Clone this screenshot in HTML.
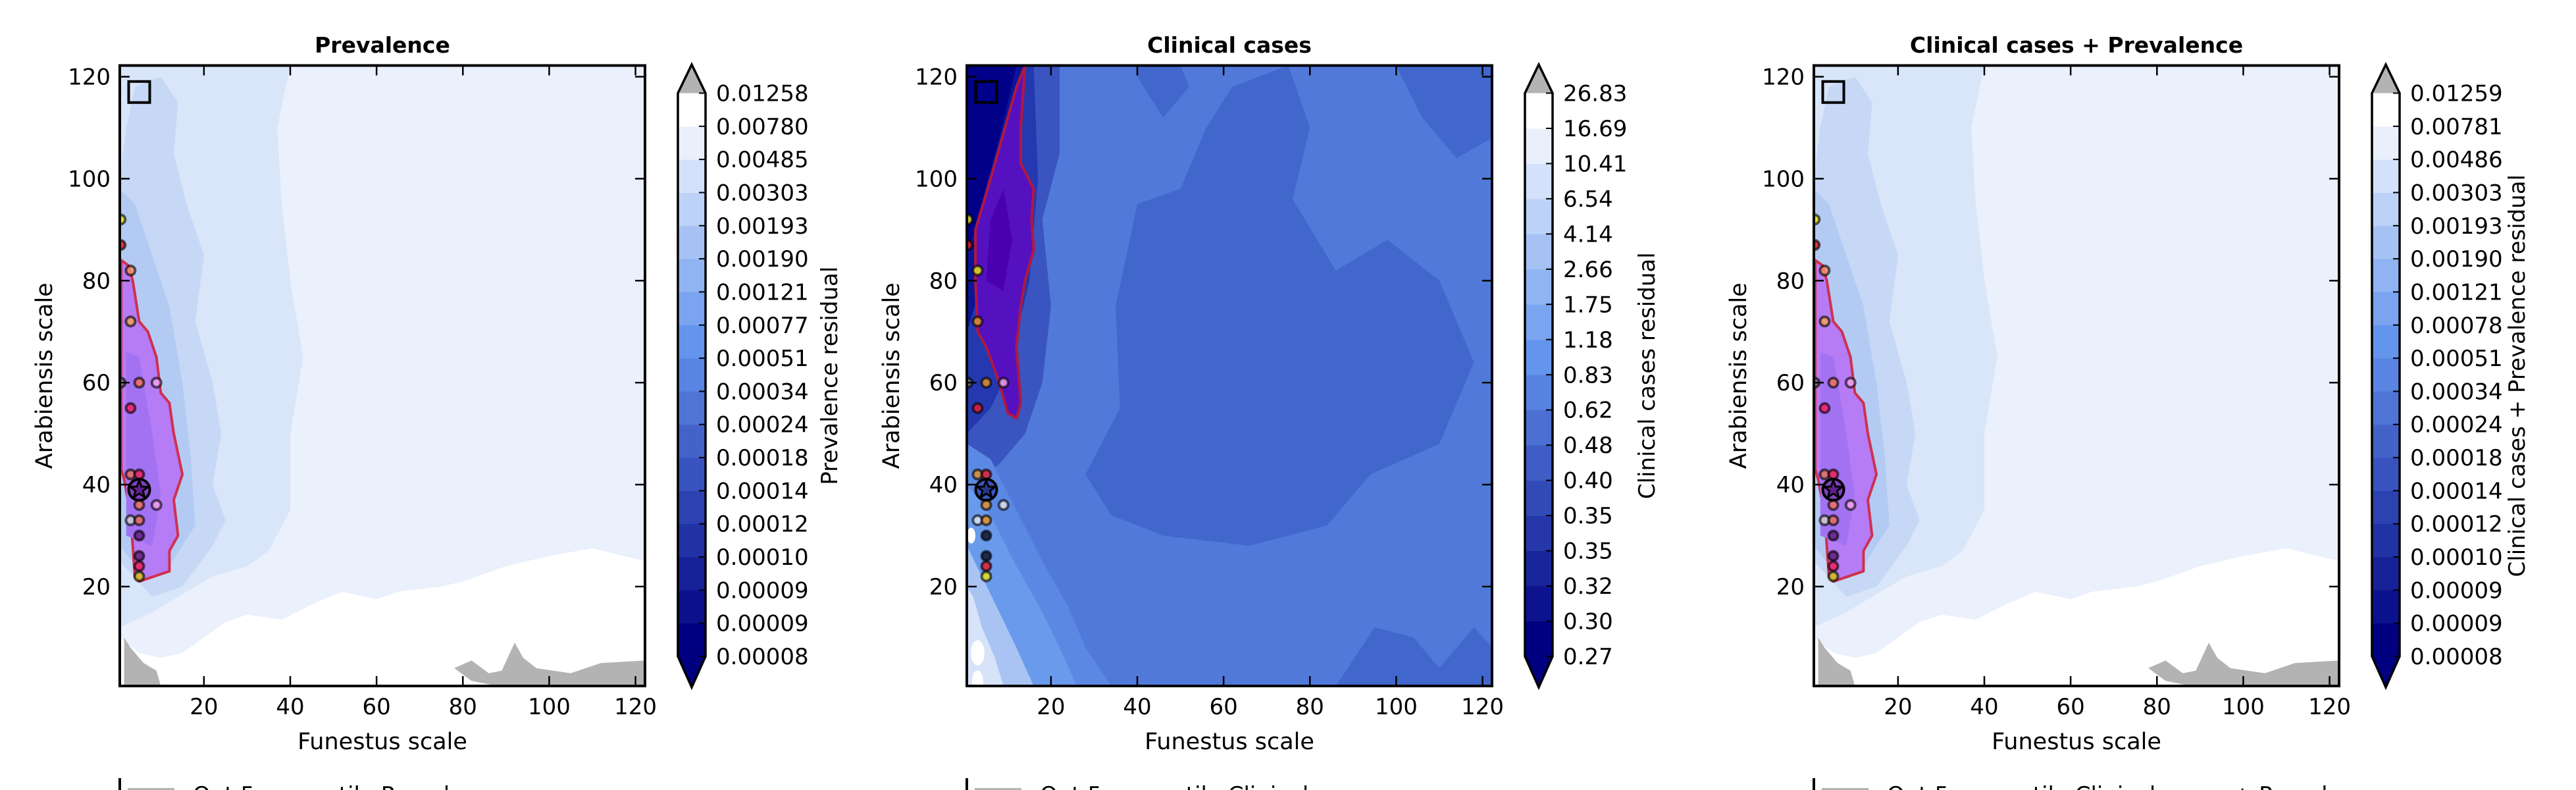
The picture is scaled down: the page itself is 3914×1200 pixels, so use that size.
<!DOCTYPE html>
<html><head><meta charset="utf-8"><style>
html,body{margin:0;padding:0;background:#fff;}
svg{display:block;font-family:"DejaVu Sans","Liberation Sans",sans-serif;}
</style></head><body>
<svg id="fig" width="3914" height="1200" viewBox="0 0 3914 1200" xmlns="http://www.w3.org/2000/svg"></svg>
<script>
// ---- data ----
const panelTitles = ["Prevalence", "Clinical cases", "Clinical cases + Prevalence"];
const cbarLabels = ["Prevalence residual", "Clinical cases residual", "Clinical cases + Prevalence residual"];
const legendTexts = ["Out 5 percentile Prevalence", "Out 5 percentile Clinical cases", "Out 5 percentile Clinical cases + Prevalence"];
const xTicks = [20, 40, 60, 80, 100, 120];
const yTicks = [20, 40, 60, 80, 100, 120];
const prevLevels = ["0.00008","0.00009","0.00009","0.00010","0.00012","0.00014","0.00018","0.00024","0.00034","0.00051","0.00077","0.00121","0.00190","0.00193","0.00303","0.00485","0.00780","0.01258"];
const clinLevels = ["0.27","0.30","0.32","0.35","0.35","0.40","0.48","0.62","0.83","1.18","1.75","2.66","4.14","6.54","10.41","16.69","26.83"];
const combLevels = ["0.00008","0.00009","0.00009","0.00010","0.00012","0.00014","0.00018","0.00024","0.00034","0.00051","0.00078","0.00121","0.00190","0.00193","0.00303","0.00486","0.00781","0.01259"];
const ptX = [0.7, 0.7, 3, 3, 0.7, 5, 9, 3, 3, 5, 5, 9, 3, 5, 5, 5, 5, 5];
const ptY = [92, 87, 82, 72, 60, 60, 60, 55, 42, 42, 36, 36, 33, 33, 30, 26, 24, 22];
const prevColors = ["#e8e020","#e02020","#f09070","#f0a060","#777777","#f07060","#f0a0f0","#f0206a","#e07060","#f02060","#f07060","#f0a0f0","#cccccc","#e07060","#602080","#602080","#f02060","#d0c020"];
const clinColors = ["#e8e020","#e02020","#e0e020","#e09030","#777777","#e09030","#f0a0f0","#e02030","#e09030","#e02030","#e09030","#dde0f0","#dde0f0","#e09030","#101830","#101830","#e02030","#e0e020"];
const starPt = [5, 39];
const squarePt = [5, 117];

// contour regions (data coords)
const prevBands = [
  {c:"#ffffff", p:[[0.5,0.5],[122.2,0.5],[122.2,25],[110,27.5],[100,26],[90,24],[80,21],[75,20],[65,19],[60,17.5],[52,19],[45,16.5],[38,13.5],[30,14.5],[25,13],[20,10],[15,7],[10,6],[5,7],[0.5,10]]},
  {c:"#d9e5f8", p:[[0.5,12],[8,15],[14,18],[22,22],[30,24],[35,27],[40,35],[40,50],[43,65],[40,80],[38,95],[37,110],[40,122.2],[0.5,122.2]]},
  {c:"#c6d8f5", p:[[0.5,25],[8,18],[15,20],[22,28],[25,33],[22,40],[24,50],[22,60],[18,72],[20,85],[16,95],[13,105],[14,115],[10,120],[4,118],[2,110],[0.5,100]]},
  {c:"#b3cbf3", p:[[0.5,28],[6,22],[12,24],[18,32],[17,45],[15,60],[12,75],[8,85],[4,95],[0.5,98]]}
];
const prevGray = [
  [[1.5,0.5],[1.5,10],[3,8],[6,5],[9,3.5],[10,0.5]],
  [[78,4],[82,5.5],[86,3],[89,3.5],[92,9],[94,6],[97,4],[105,3],[112,5],[122.2,5.5],[122.2,0.5],[88,0.5],[82,1.5]]
];
const prevPurple = [[5,21],[12,23],[12,27],[14,30],[13,37],[15,42],[13,50],[12,56],[10,58],[9,65],[7,70],[5,72],[3.5,80],[2.5,83],[0.8,84],[0.8,43],[1.5,41],[3,34],[3.5,28],[4,22]];
const prevPurpleIn = [[2,30],[8,28],[10,38],[8,50],[5,65],[2,66]];
const clinBands = [
  {c:"#4166cc", p:[[28,42],[36,55],[35,75],[40,95],[50,98],[56,110],[62,118],[75,122.2],[80,110],[76,96],[86,82],[98,88],[110,80],[118,64],[110,48],[94,42],[84,32],[66,28],[46,30],[34,34]]},
  {c:"#4166cc", p:[[88,3],[95,12],[104,10],[110,4],[118,12],[122.2,8],[122.2,0.5],[86,0.5]]},
  {c:"#4166cc", p:[[100,122.2],[106,112],[114,104],[122.2,108],[122.2,122.2]]},
  {c:"#4166cc", p:[[40,120],[46,112],[52,118],[50,122.2],[40,122.2]]},
  {c:"#3a55c0", p:[[0.5,40],[8,44],[14,50],[18,60],[20,75],[18,92],[22,105],[22,122.2],[0.5,122.2]]},
  {c:"#2438b0", p:[[0.5,50],[6,55],[10,62],[15,80],[17,100],[16,122.2],[0.5,122.2]]},
  {c:"#0a1598", p:[[0.5,70],[5,82],[10,100],[14,122.2],[0.5,122.2]]},
  {c:"#000088", p:[[0.5,85],[3,92],[8,108],[12,122.2],[0.5,122.2]]},
  {c:"#5b88e3", p:[[0.5,0.5],[34,0.5],[28,8],[24,16],[18,25],[12,35],[6,45],[0.5,48]]},
  {c:"#6a9aeb", p:[[0.5,0.5],[26,0.5],[22,8],[18,15],[12,24],[6,34],[0.5,40]]},
  {c:"#a9c4f3", p:[[0.5,0.5],[16,0.5],[12,8],[8,15],[4,22],[0.5,28]]},
  {c:"#d6e3f8", p:[[0.5,0.5],[9,0.5],[7,6],[4,12],[2,18],[0.5,20]]}
];
const clinPurple = [[14,122.2],[13,110],[13,103],[16,98],[15.5,92],[16,86],[14,80],[13,75],[12,67],[13,56],[12,53],[10,54],[8,60],[5,67],[3,70],[2.5,80],[2.5,90],[6,100],[12,118]];
const clinPurpleIn = [[5,80],[9,78],[11,88],[9,98],[6,92]];

// ---- drawing ----
const NS = "http://www.w3.org/2000/svg";
const svg = document.getElementById("fig");
function mk(tag, attrs, parent, text){
  const e = document.createElementNS(NS, tag);
  for (const k in attrs) e.setAttribute(k, attrs[k]);
  if (text !== undefined) e.textContent = text;
  (parent || svg).appendChild(e);
  return e;
}
function lerpColor(a, b, t){
  const pa=[1,3,5].map(i=>parseInt(a.substr(i,2),16)), pb=[1,3,5].map(i=>parseInt(b.substr(i,2),16));
  return "rgb(" + pa.map((v,i)=>Math.round(v+(pb[i]-v)*t)).join(",") + ")";
}
const DX0=0.5, DX1=122.2, DY0=0.5, DY1=122.2;
const AX_L=182, AX_R=980, AX_T=99.5, AX_B=1042;
const PANEL_OFF = 1287;
const cbarLabelX = [1258, 2500, 3822];

function drawPanel(pi){
  const ox = pi * PANEL_OFF;
  const X = v => ox + AX_L + (v - DX0) / (DX1 - DX0) * (AX_R - AX_L);
  const Y = v => AX_B - (v - DY0) / (DY1 - DY0) * (AX_B - AX_T);
  const pts = arr => arr.map(p => X(p[0]).toFixed(1) + "," + Y(p[1]).toFixed(1)).join(" ");
  const g = mk("g", {});
  
  
  const clipId = "clip" + pi;
  const cp = mk("clipPath", {id: clipId}, g);
  mk("rect", {x: X(DX0), y: Y(DY1), width: AX_R-AX_L, height: AX_B-AX_T}, cp);
  const plot = mk("g", {"clip-path": "url(#" + clipId + ")"}, g);
  
  
  const isClin = pi === 1;
  const bg = mk("rect", {x: X(DX0), y: Y(DY1), width: AX_R-AX_L, height: AX_B-AX_T, fill: isClin ? "#5079d9" : "#eaf0fc"}, plot);
  
  
  const bands = isClin ? clinBands : prevBands;
  bands.forEach((b, i) => {
    const e = mk("polygon", {points: pts(b.p), fill: b.c, "stroke-linejoin": "round"}, plot);
    
    
  });
  if (!isClin) {
    prevGray.forEach((p, i) => {
      const e = mk("polygon", {points: pts(p), fill: "#b3b3b3"}, plot);
      
      
    });
    const pr = mk("polygon", {points: pts(prevPurple), fill: "#b57cf5", stroke: "#d03050", "stroke-width": 4, "stroke-linejoin": "round"}, plot);
    
    
    const pi2 = mk("polygon", {points: pts(prevPurpleIn), fill: "#a272f2"}, plot);
    
    
  } else {
    const pr = mk("polygon", {points: pts(clinPurple), fill: "#5511c0", stroke: "#b01840", "stroke-width": 4, "stroke-linejoin": "round"}, plot);
    
    
    const pin = mk("polygon", {points: pts(clinPurpleIn), fill: "#4a00b0"}, plot);
    
    
    [[3,7,1.6],[3,1.5,1.3],[1.5,30,1.0]].forEach(b => {
      const e = mk("ellipse", {cx: X(b[0]), cy: Y(b[1]), rx: b[2]*6.5, ry: b[2]*12, fill: "#ffffff"}, plot);
      
      
    });
  }
  // scatter points
  const cols = isClin ? clinColors : prevColors;
  ptX.forEach((xv, i) => {
    const c = mk("circle", {cx: X(xv), cy: Y(ptY[i]), r: 7, fill: cols[i], stroke: "#000", "stroke-opacity": 0.6, "stroke-width": 4, "fill-opacity": 0.85}, plot);
    
    
  });
  // star marker
  const sx = X(starPt[0]), sy = Y(starPt[1]);
  const sc = mk("circle", {cx: sx, cy: sy, r: 16, fill: isClin ? "#3a55c0" : "#8040c0", stroke: "#000", "stroke-width": 4}, plot);
  
  
  let star = [];
  for (let k = 0; k < 10; k++) {
    const a = -Math.PI/2 + k*Math.PI/5, r = k%2 ? 6 : 14;
    star.push((sx + r*Math.cos(a)).toFixed(1) + "," + (sy + r*Math.sin(a)).toFixed(1));
  }
  const st = mk("polygon", {points: star.join(" "), fill: isClin ? "#2a3590" : "#602090", stroke: "#000", "stroke-width": 3}, plot);
  
  
  const sq = mk("rect", {x: X(squarePt[0]) - 16, y: Y(squarePt[1]) - 16, width: 32, height: 32, fill: "none", stroke: "#000", "stroke-width": 4}, plot);
  
  
  // ticks
  xTicks.forEach(t => {
    const x = X(t);
    mk("line", {x1: x, x2: x, y1: AX_B, y2: AX_B - 15, stroke: "#000", "stroke-width": 2.5}, g);
    mk("line", {x1: x, x2: x, y1: AX_T, y2: AX_T + 15, stroke: "#000", "stroke-width": 2.5}, g);
    const tl = mk("text", {x: x, y: 1085, "font-size": 34, "text-anchor": "middle"}, g, String(t));
    
    
  });
  yTicks.forEach(t => {
    const y = Y(t);
    mk("line", {x1: ox+AX_L, x2: ox+AX_L + 15, y1: y, y2: y, stroke: "#000", "stroke-width": 2.5}, g);
    mk("line", {x1: ox+AX_R, x2: ox+AX_R - 15, y1: y, y2: y, stroke: "#000", "stroke-width": 2.5}, g);
    const tl = mk("text", {x: ox+AX_L - 14, y: y + 12, "font-size": 34, "text-anchor": "end"}, g, String(t));
    
    
  });
  const frame = mk("rect", {x: ox+AX_L, y: AX_T, width: AX_R-AX_L, height: AX_B-AX_T, fill: "none", stroke: "#000", "stroke-width": 4}, g);
  
  
  const title = mk("text", {x: ox + (AX_L+AX_R)/2, y: 80, "font-size": 33, "font-weight": "bold", "text-anchor": "middle"}, g, panelTitles[pi]);
  
  
  const xl = mk("text", {x: ox + (AX_L+AX_R)/2, y: 1138, "font-size": 35, "text-anchor": "middle"}, g, "Funestus scale");
  
  
  const yl = mk("text", {x: 0, y: 0, "font-size": 35, "text-anchor": "middle", transform: "translate(" + (ox+79) + "," + ((AX_T+AX_B)/2) + ") rotate(-90)"}, g, "Arabiensis scale");
  
  
  // colorbar
  const levels = pi === 0 ? prevLevels : (pi === 1 ? clinLevels : combLevels);
  const nb = levels.length - 1;
  const cx0 = ox + 1030, cx1 = ox + 1072, cTop = 141.5, cBot = 997;
  const bh = (cBot - cTop) / nb;
  const mid = Math.round(nb / 2);
  const cb = mk("g", {}, g);
  
  
  for (let i = 0; i < nb; i++) {
    const col = i <= mid ? lerpColor("#000080", "#6495ed", i / mid) : lerpColor("#6495ed", "#ffffff", (i - mid) / (nb - 1 - mid));
    const r = mk("rect", {x: cx0, y: cBot - (i+1)*bh - 0.5, width: cx1-cx0, height: bh + 1, fill: col}, cb);
    
    
  }
  mk("polygon", {points: cx0+","+cTop+" "+cx1+","+cTop+" "+((cx0+cx1)/2)+",98", fill: "#b3b3b3"}, cb);
  mk("polygon", {points: cx0+","+cBot+" "+cx1+","+cBot+" "+((cx0+cx1)/2)+",1044", fill: "#000080"}, cb);
  mk("polygon", {points: cx0+","+cTop+" "+((cx0+cx1)/2)+",98 "+cx1+","+cTop+" "+cx1+","+cBot+" "+((cx0+cx1)/2)+",1044 "+cx0+","+cBot, fill: "none", stroke: "#000", "stroke-width": 3.5}, cb);
  levels.forEach((lv, i) => {
    const y = cBot - i * bh;
    mk("line", {x1: cx1, x2: cx1 - 10, y1: y, y2: y, stroke: "#000", "stroke-width": 2}, cb);
    const t = mk("text", {x: ox + 1088, y: y + 12, "font-size": 34}, cb, lv);
    
    
  });
  const cl = mk("text", {x: 0, y: 0, "font-size": 34, "text-anchor": "middle", transform: "translate(" + (cbarLabelX[pi] + 14) + "," + ((AX_T+AX_B)/2) + ") rotate(-90)"}, g, cbarLabels[pi]);
  
  
  // legend (cut off)
  const lg = mk("g", {}, g);
  
  
  mk("line", {x1: ox+182, x2: ox+182, y1: 1182, y2: 1200, stroke: "#000", "stroke-width": 4}, lg);
  mk("rect", {x: ox+194, y: 1197, width: 71, height: 10, fill: "#b3b3b3"}, lg);
  const lt = mk("text", {x: ox+293, y: 1219, "font-size": 34}, lg, legendTexts[pi]);
  
  
}
[0, 1, 2].forEach(drawPanel);
</script>
</body></html>
